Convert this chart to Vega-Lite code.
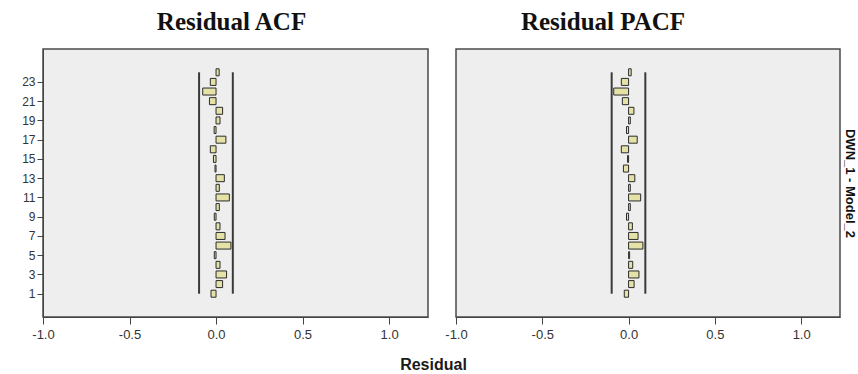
{
  "$schema": "https://vega.github.io/schema/vega-lite/v6.json",
  "background": "white",
  "padding": {"left": 5, "top": 9, "right": 0, "bottom": 5},
  "bounds": "flush",
  "title": {"text": "Residual", "orient": "bottom", "anchor": "middle", "font": "Liberation Sans", "fontSize": 16, "fontWeight": "bold", "color": "#1a1a1a", "offset": 15, "dx": 3},
  "datasets": {
    "acf": [
      {"lag": 1, "value": -0.029}, {"lag": 2, "value": 0.038}, {"lag": 3, "value": 0.061}, {"lag": 4, "value": 0.023},
      {"lag": 5, "value": -0.01}, {"lag": 6, "value": 0.086}, {"lag": 7, "value": 0.052}, {"lag": 8, "value": 0.023},
      {"lag": 9, "value": -0.01}, {"lag": 10, "value": 0.019}, {"lag": 11, "value": 0.077}, {"lag": 12, "value": 0.019},
      {"lag": 13, "value": 0.048}, {"lag": 14, "value": -0.006}, {"lag": 15, "value": -0.015}, {"lag": 16, "value": -0.033},
      {"lag": 17, "value": 0.057}, {"lag": 18, "value": -0.011}, {"lag": 19, "value": 0.023}, {"lag": 20, "value": 0.038},
      {"lag": 21, "value": -0.038}, {"lag": 22, "value": -0.077}, {"lag": 23, "value": -0.033}, {"lag": 24, "value": 0.018}
    ],
    "pacf": [
      {"lag": 1, "value": -0.025}, {"lag": 2, "value": 0.032}, {"lag": 3, "value": 0.06}, {"lag": 4, "value": 0.024},
      {"lag": 5, "value": 0.006}, {"lag": 6, "value": 0.083}, {"lag": 7, "value": 0.055}, {"lag": 8, "value": 0.022},
      {"lag": 9, "value": -0.012}, {"lag": 10, "value": 0.01}, {"lag": 11, "value": 0.07}, {"lag": 12, "value": 0.01},
      {"lag": 13, "value": 0.036}, {"lag": 14, "value": -0.03}, {"lag": 15, "value": -0.006}, {"lag": 16, "value": -0.042},
      {"lag": 17, "value": 0.05}, {"lag": 18, "value": -0.012}, {"lag": 19, "value": 0.01}, {"lag": 20, "value": 0.031},
      {"lag": 21, "value": -0.036}, {"lag": 22, "value": -0.086}, {"lag": 23, "value": -0.042}, {"lag": 24, "value": 0.015}
    ],
    "limits": [
      {"limit": -0.098, "lagStart": 1, "lagEnd": 24},
      {"limit": 0.097, "lagStart": 1, "lagEnd": 24}
    ]
  },
  "hconcat": [
    {
      "width": 385,
      "height": 268,
      "title": {"text": "Residual ACF", "font": "Liberation Serif", "fontSize": 25, "fontWeight": "bold", "color": "#111", "anchor": "middle", "dx": -4, "offset": 14},
      "layer": [
        {
          "data": {"name": "acf"},
          "mark": {"type": "bar", "height": 7, "fill": "#e4e2a6", "stroke": "#2b2b2b", "strokeWidth": 1},
          "encoding": {
            "x": {"field": "value", "type": "quantitative", "scale": {"domain": [-1, 1.225], "nice": false, "zero": false},
              "axis": {"values": [-1, -0.5, 0, 0.5, 1], "tickCount": 10, "format": ".1f", "labelExpr": "replace(datum.label, '\u2212', '-')", "title": null, "grid": false, "tickSize": 7, "tickColor": "#444", "domainColor": "#444", "labelFont": "Liberation Sans", "labelFontSize": 13, "labelColor": "#333", "labelPadding": 4, "labelFlush": false}},
            "x2": {"datum": 0},
            "y": {"field": "lag", "type": "quantitative", "scale": {"domain": [-0.9, 25.9], "nice": false, "zero": false},
              "axis": {"values": [1, 3, 5, 7, 9, 11, 13, 15, 17, 19, 21, 23], "tickCount": 30, "labelOverlap": false, "title": null, "grid": false, "tickSize": 6, "tickColor": "#444", "domainColor": "#444", "labelFont": "Liberation Sans", "labelFontSize": 12, "labelColor": "#333", "labelPadding": 2, "minExtent": 37, "maxExtent": 37}}
          }
        },
        {
          "data": {"name": "limits"},
          "mark": {"type": "rule", "stroke": "#3a3a3a", "strokeWidth": 2},
          "encoding": {
            "x": {"field": "limit", "type": "quantitative"},
            "y": {"field": "lagStart", "type": "quantitative"},
            "y2": {"field": "lagEnd"}
          }
        }
      ]
    },
    {
      "width": 384,
      "height": 268,
      "title": {"text": "Residual PACF", "font": "Liberation Serif", "fontSize": 25, "fontWeight": "bold", "color": "#111", "anchor": "middle", "dx": -45, "offset": 14},
      "layer": [
        {
          "data": {"name": "pacf"},
          "mark": {"type": "bar", "height": 7, "fill": "#e4e2a6", "stroke": "#2b2b2b", "strokeWidth": 1},
          "encoding": {
            "x": {"field": "value", "type": "quantitative", "scale": {"domain": [-1, 1.225], "nice": false, "zero": false},
              "axis": {"values": [-1, -0.5, 0, 0.5, 1], "tickCount": 10, "format": ".1f", "labelExpr": "replace(datum.label, '\u2212', '-')", "title": null, "grid": false, "tickSize": 7, "tickColor": "#444", "domainColor": "#444", "labelFont": "Liberation Sans", "labelFontSize": 13, "labelColor": "#333", "labelPadding": 4, "labelFlush": false}},
            "x2": {"datum": 0},
            "y": {"field": "lag", "type": "quantitative", "scale": {"domain": [-0.9, 25.9], "nice": false, "zero": false},
              "axis": {"orient": "right", "labels": false, "ticks": false, "domain": false, "grid": false, "title": "DWN_1 - Model_2", "titleAngle": 90, "titleFont": "Liberation Sans", "titleFontSize": 13, "titleFontWeight": "bold", "titleColor": "#111", "titlePadding": 2}}
          }
        },
        {
          "data": {"name": "limits"},
          "mark": {"type": "rule", "stroke": "#3a3a3a", "strokeWidth": 2},
          "encoding": {
            "x": {"field": "limit", "type": "quantitative"},
            "y": {"field": "lagStart", "type": "quantitative"},
            "y2": {"field": "lagEnd"}
          }
        }
      ]
    }
  ],
  "spacing": 28,
  "config": {
    "view": {"fill": "#eeeeee", "stroke": "#4a4a4a", "strokeWidth": 1.5}
  }
}
